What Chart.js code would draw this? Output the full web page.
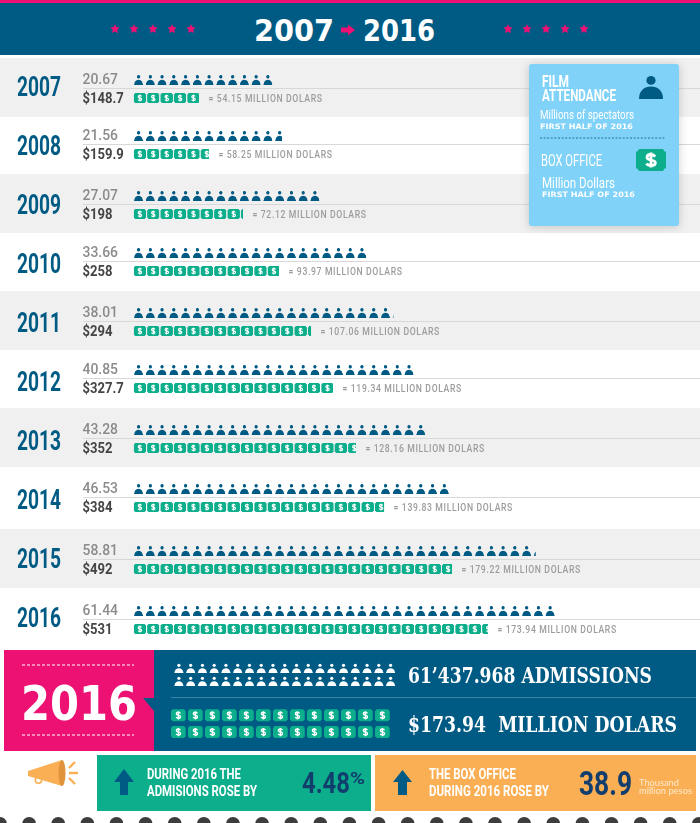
<!DOCTYPE html>
<html><head><meta charset="utf-8">
<style>
html,body{margin:0;padding:0;background:#fff;width:700px;height:823px;overflow:hidden}
#wrap{position:relative;width:700px;height:823px}
canvas,svg{position:absolute;left:0;top:0}
svg text{white-space:pre}
</style>
<script src="https://cdn.jsdelivr.net/npm/chart.js@4/dist/chart.umd.min.js"></script>
</head><body>
<div id="wrap"><canvas id="c" width="700" height="823"></canvas>
<svg id="s" width="700" height="823" viewBox="0 0 700 823" xmlns="http://www.w3.org/2000/svg"></svg></div>
<script>
// ---- data ----
const years = ["2007","2008","2009","2010","2011","2012","2013","2014","2015","2016"];
const attendanceLabels = ["20.67","21.56","27.07","33.66","38.01","40.85","43.28","46.53","58.81","61.44"];
const boxOfficeLabels = ["$148.7","$159.9","$198","$258","$294","$327.7","$352","$384","$492","$531"];
const millionDollars = ["54.15","58.25","72.12","93.97","107.06","119.34","128.16","139.83","179.22","173.94"];
// length of each pictogram row, in icons
const personIcons = [12,12.63,16,20,22.1,24,25,27,34.2,36];
const ticketIcons = [4.89,5.63,8.17,10.86,13.25,14.89,16.6,18.7,23.77,26.45];

// ---- styling / layout ----
const BLUE="#005B84",PINK="#EE1174",GREEN="#0CAE8C",SKY="#81D2F8",ORANGE="#FBAF55",NAVY="#123E6E";
const NARROW='Roboto',WIDE='"DejaVu Sans"',SLAB='"DejaVu Serif"';
const PERSON_PITCH=11.76,TICKET_PITCH=13.4,LEFT=133.5,BAR_H=11;
const rowNudge=[0.5,-2.5,-1.5,-3.5,-2.5,-4.5,-3.5,-3.5,-0.5,0.5];
const PERSON_BODY="M0 24C0 15.5 5 11 12 11C19 11 24 15.5 24 24Z";
const SMALL_BODY="M0 24L1 21C2 15 6 11.8 12 11.8C18 11.8 22 15 23 21L24 24Z";
const TICKET_BODY="M3 0H27L28.5 2.5H30V19.5H28.5L27 22H3L1.5 19.5H0V2.5H1.5Z";
const DOLLAR="M19.2 7.6C18.2 6.2 16.7 5.5 15 5.5C12.6 5.5 11 6.7 11 8.4C11 11.9 19.4 10.1 19.4 13.7C19.4 15.4 17.6 16.5 15 16.5C13 16.5 11.4 15.8 10.5 14.4M15 3.4V18.6";

function personTile(color){
  const t=document.createElement('canvas');t.width=24;t.height=22;
  const g=t.getContext('2d');g.fillStyle=color;g.translate(1,1);g.scale(18.5/24,20/24);
  g.beginPath();g.arc(12,4.2,4.2,0,7);g.fill();g.fill(new Path2D(SMALL_BODY));return t;
}
function ticketTile(){
  const t=document.createElement('canvas');t.width=27;t.height=22;
  const g=t.getContext('2d');g.translate(0.5,1);g.scale(24.5/30,20/22);
  g.fillStyle=GREEN;g.fill(new Path2D(TICKET_BODY));
  g.strokeStyle="#fff";g.lineWidth=2.6;g.stroke(new Path2D(DOLLAR));return t;
}
const tileP=personTile(BLUE),tileT=ticketTile();
const probe=document.getElementById('c').getContext('2d');
function rowPattern(tile,pitch,y){
  const p=probe.createPattern(tile,'repeat');
  p.setTransform(new DOMMatrix().translate(LEFT,y).scale(pitch/tile.width,0.5));
  return p;
}
function ruleY(chart,i){return chart.scales.y.getPixelForTick(i)+rowNudge[i];}
const SLOT=18;
function squeezed(g,s,x,y,sx){g.save();g.translate(x,y);g.scale(sx,1);g.fillText(s,0,0);g.restore();}

const rowsPlugin={
  id:'rows',
  afterLayout(chart){
    const sc=chart.scales.y;
    if(sc._wrapped)return;sc._wrapped=true;
    const orig=sc.drawLabels;
    sc.drawLabels=function(area){
      const g=this.ctx;g.save();g.translate(17,2);g.scale(0.71,1);g.translate(-17,0);
      orig.call(this,area);g.restore();
    };
  },
  afterDatasetsUpdate(chart){
    chart.data.datasets.forEach((d,k)=>{
      chart.getDatasetMeta(k).data.forEach((el,i)=>{el.y=ruleY(chart,i)+1+(k===0?-SLOT/2:SLOT/2);});
    });
  },
  beforeDraw(chart){
    const g=chart.ctx;g.save();
    years.forEach((y,i)=>{
      const r=Math.round(ruleY(chart,i));
      if(i%2===0){g.fillStyle="#F0F0F0";g.fillRect(0,r-30,700,59);}
    });
    years.forEach((y,i)=>{
      const r=Math.round(ruleY(chart,i));
      g.fillStyle="#D8D8D8";g.fillRect(83,r,617,1);
    });
    g.restore();
  },
  afterDatasetsDraw(chart){
    const g=chart.ctx;g.save();
    const x=chart.scales.xTickets;
    years.forEach((y,i)=>{
      const r=ruleY(chart,i);
      g.textAlign='left';g.textBaseline='alphabetic';
      g.font='500 14.5px Roboto';g.fillStyle="#8B8B8B";squeezed(g,attendanceLabels[i],82.5,r-4,0.96);
      g.font='700 14.5px Roboto';g.fillStyle="#444";squeezed(g,boxOfficeLabels[i],82.5,r+15,0.9);
      const s="= "+millionDollars[i]+" MILLION DOLARS";
      g.font='500 11px Roboto';g.fillStyle="#9C9C9C";g.letterSpacing='0.8px';
      squeezed(g,s,x.getPixelForValue(ticketIcons[i])+9.5,r+14,5.19*s.length/g.measureText(s).width);
      g.letterSpacing='0px';
    });
    g.restore();
  }
};

new Chart(document.getElementById('c'),{
  type:'bar',
  plugins:[rowsPlugin],
  data:{labels:years,datasets:[
    {label:'Film attendance',data:personIcons,xAxisID:'xPeople',
     backgroundColor:c=>rowPattern(tileP,PERSON_PITCH,ruleY(c.chart,c.dataIndex)+1-SLOT/2-BAR_H/2)},
    {label:'Box office',data:ticketIcons,xAxisID:'xTickets',
     backgroundColor:c=>rowPattern(tileT,TICKET_PITCH,ruleY(c.chart,c.dataIndex)+1+SLOT/2-BAR_H/2)}
  ]},
  options:{
    indexAxis:'y',responsive:false,animation:false,events:[],devicePixelRatio:1,
    layout:{padding:{left:17,top:58,bottom:175,right:0}},
    categoryPercentage:2*SLOT/59,barPercentage:BAR_H/SLOT,
    plugins:{legend:{display:false},tooltip:{enabled:false}},
    scales:{
      y:{type:'category',grid:{display:false},border:{display:false},
         afterFit:s=>{s.width=LEFT-17;},
         ticks:{crossAlign:'far',padding:0,autoSkip:false,color:BLUE,font:{family:'Roboto',weight:'bold',size:27}}},
      xPeople:{type:'linear',axis:'x',display:false,min:0,max:(700-LEFT)/PERSON_PITCH},
      xTickets:{type:'linear',axis:'x',display:false,min:0,max:(700-LEFT)/TICKET_PITCH}
    }
  }
});

// ---- banner, legend card and footer panels ----
const svg=document.getElementById('s'),NS=svg.namespaceURI;
function el(n,a,p){const e=document.createElementNS(NS,n);for(const k in a)e.setAttribute(k,a[k]);(p||svg).appendChild(e);return e;}
function rect(x,y,w,h,f,extra){return el('rect',Object.assign({x,y,width:w,height:h,fill:f},extra||{}));}
function text(s,x,y,w,size,fam,f,weight,extra){
  const e=el('text',Object.assign({x,y,'font-size':size,'font-family':fam.replace(/"/g,"'"),fill:f,'font-weight':weight||'normal',textLength:w,lengthAdjust:'spacingAndGlyphs'},extra||{}));
  e.textContent=s;return e;
}
function star(cx,cy,r,f){let p=[];for(let i=0;i<10;i++){const a=-Math.PI/2+i*Math.PI/5,q=i%2?r*0.5:r;p.push((cx+q*Math.cos(a)).toFixed(2)+','+(cy+q*Math.sin(a)).toFixed(2));}el('polygon',{points:p.join(' '),fill:f});}
function person(x,y,w,h,f,small){const g=el('g',{transform:`translate(${x} ${y}) scale(${w/24} ${h/24})`,fill:f});
  el('circle',small?{cx:12,cy:4.2,r:4.2}:{cx:12,cy:4.6,r:4.6},g);el('path',{d:small?SMALL_BODY:PERSON_BODY},g);}
function ticket(x,y,w,h,f){const g=el('g',{transform:`translate(${x} ${y}) scale(${w/30} ${h/22})`});el('path',{d:TICKET_BODY,fill:f},g);el('path',{d:DOLLAR,fill:'none',stroke:'#fff','stroke-width':2.8},g);}

rect(0,0,700,3,PINK);rect(0,3,700,52,BLUE);
[115,134,153,172,191,508,527,546,565,584].forEach(x=>star(x,29,4.8,PINK));
text("2007",254,41,80,31,WIDE,"#fff","bold");
text("2016",363,41,72,31,WIDE,"#fff","bold");
el('polygon',{points:'341,27.5 348,27.5 348,24.5 355,30 348,35.5 348,32.5 341,32.5',fill:PINK});

rect(529,64,150,162,SKY,{rx:3,style:'filter:drop-shadow(0 1px 4px rgba(0,0,0,.18))'});
text("FILM",542,87,27,16.5,NARROW,"#fff","bold");
text("ATTENDANCE",542,101,74,16.5,NARROW,"#fff","bold");
person(639,76,24,23,BLUE);
text("Millions of spectators",540,119,94,13,NARROW,"#fff");
text("FIRST HALF OF 2016",540,129,93,7.5,WIDE,"#fff","bold");
el('line',{x1:540,x2:666,y1:138,y2:138,stroke:BLUE,'stroke-dasharray':'2 1.6','stroke-width':0.8});
text("BOX OFFICE",541,166,61,16,NARROW,"#fff");
ticket(636,149,30,22,"#0CAE8C");
text("Million Dollars",542,188,73,14.5,NARROW,"#fff");
text("FIRST HALF OF 2016",542,197,93,7.5,WIDE,"#fff","bold");

rect(4,650,150,101,PINK);rect(154,650,542,101,BLUE);
el('polygon',{points:'143,698 154,698 154,711',fill:BLUE});
[665,735].forEach(y=>el('line',{x1:22,x2:134,y1:y,y2:y,stroke:'#fff','stroke-dasharray':'3 2','stroke-width':1}));
text("2016",21,720,116,48,WIDE,"#fff","bold");
for(let r=0;r<2;r++)for(let i=0;i<19;i++)person(174.3+i*PERSON_PITCH,663.7+r*13,9.2,9.2,"#fff",true);
rect(171,697,525,1,"#3C83A8");
for(let r=0;r<2;r++)for(let i=0;i<13;i++)ticket(171+i*17,709.3+r*16.8,14.7,12,GREEN);
text("61\u2019437.968 ADMISSIONS",408,683,244,23,SLAB,"#fff","bold");
text("$173.94  MILLION DOLARS",408,732,269,23,SLAB,"#fff","bold");

// megaphone
el('polygon',{points:'28,771 62,760 62,786 28,776',fill:ORANGE});
el('ellipse',{cx:62,cy:773,rx:3.5,ry:13,fill:'#E0933A'});
el('circle',{cx:38.5,cy:780,r:3.2,fill:'none',stroke:ORANGE,'stroke-width':1.6});
[[69,768,75,762],[69,773,78,773],[69,778,75,784]].forEach(l=>el('line',{x1:l[0],y1:l[1],x2:l[2],y2:l[3],stroke:ORANGE,'stroke-width':2.4}));

rect(97,755,274,56,GREEN);rect(375,755,321,56,ORANGE);
el('polygon',{points:'124,769 134,782 128,782 128,795 120,795 120,782 114,782',fill:BLUE});
el('polygon',{points:'402.5,770 412,782 407,782 407,795 398,795 398,782 393,782',fill:BLUE});
text("DURING 2016 THE",147,779,94,15.5,NARROW,"#fff","bold");
text("ADMISIONS ROSE BY",147,796,110,15.5,NARROW,"#fff","bold");
text("4.48",302,793,48,30,"Roboto",NAVY,"bold");
text("%",350,784,15,16,"Roboto",NAVY,"bold");
text("THE BOX OFFICE",429,779,87,15.5,NARROW,"#fff","bold");
text("DURING 2016 ROSE BY",429,796,120,15.5,NARROW,"#fff","bold");
text("38.9",579,795,53,33,"Roboto",NAVY,"bold");
text("Thousand",639,786,40,8.5,"Lato","#FEE9CC");
text("million pesos",639,793.5,53,8.5,"Lato","#FEE9CC");

for(let i=0;i<25;i++)el('circle',{cx:i*29.12,cy:824,r:7,fill:'#3D3D3D'});
</script>
</body></html>
